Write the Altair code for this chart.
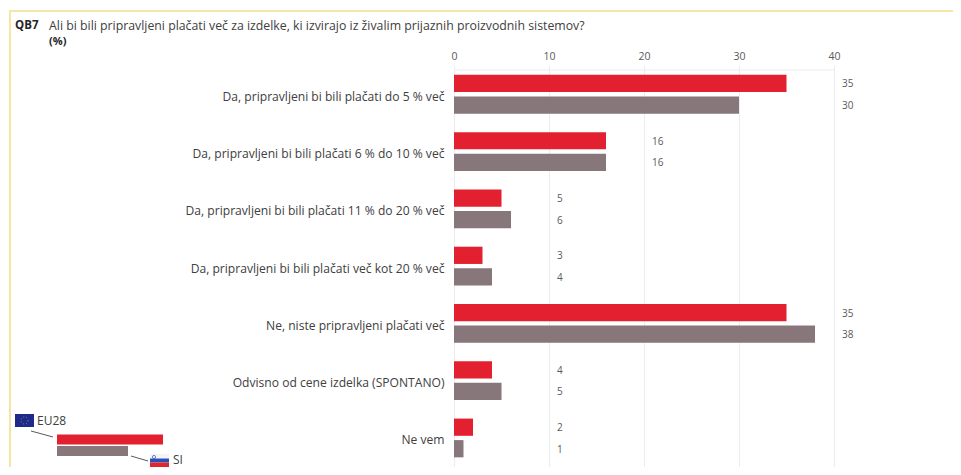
import altair as alt
import pandas as pd

FONT = "Open Sans"
TEXT = "#595959"
categories = [
    "Da, pripravljeni bi bili plačati do 5 % več",
    "Da, pripravljeni bi bili plačati 6 % do 10 % več",
    "Da, pripravljeni bi bili plačati 11 % do 20 % več",
    "Da, pripravljeni bi bili plačati več kot 20 % več",
    "Ne, niste pripravljeni plačati več",
    "Odvisno od cene izdelka (SPONTANO)",
    "Ne vem",
]
eu28 = [35, 16, 5, 3, 35, 4, 2]
si = [30, 16, 6, 4, 38, 5, 1]
label_col_eu = [40, 20, 10, 10, 40, 10, 10]
label_col_si = [40, 20, 10, 10, 40, 10, 10]
series = ["EU28", "SI"]
colors = ["#e32030", "#87767a"]
title_code = "QB7"
title_text = "Ali bi bili pripravljeni plačati več za izdelke, ki izvirajo iz živalim prijaznih proizvodnih sistemov?"
title_unit = "(%)"

rows = []
for c, e, s, le, ls in zip(categories, eu28, si, label_col_eu, label_col_si):
    rows.append(dict(cat=c, series="EU28", value=e, lab=le))
    rows.append(dict(cat=c, series="SI", value=s, lab=ls))
df = pd.DataFrame(rows)

W, H = 380, 397
y_scale = alt.Scale(domain=categories, range=[-4.4, 396.6], paddingInner=0, paddingOuter=0)
x_scale = alt.Scale(domain=[0, 40], nice=False, zero=True)
y_off = alt.YOffset("series:N", sort=series, scale=alt.Scale(domain=series, paddingInner=0.2, paddingOuter=0.43))

bars = alt.Chart(df).mark_bar(clip=False).encode(
    x=alt.X("value:Q", scale=x_scale, axis=alt.Axis(
        orient="top", values=[0, 10, 20, 30, 40], title=None, domain=False, ticks=False,
        grid=True, gridColor="#ececec", gridWidth=1, labelFont=FONT, labelFontSize=10.5,
        labelColor=TEXT, labelPadding=9, labelFlush=False)),
    y=alt.Y("cat:N", sort=categories, scale=y_scale, axis=alt.Axis(
        title=None, domain=False, ticks=False, labelFont=FONT, labelFontSize=12.1,
        labelColor="#404040", labelPadding=10, labelLimit=400, labelOffset=2.5)),
    yOffset=y_off,
    color=alt.Color("series:N", scale=alt.Scale(domain=series, range=colors), legend=None),
)

labels = alt.Chart(df).mark_text(align="left", baseline="middle", dx=8, dy=1, font=FONT, fontSize=10, color=TEXT).encode(
    x=alt.X("lab:Q", scale=x_scale),
    y=alt.Y("cat:N", sort=categories, scale=y_scale),
    yOffset=y_off,
    text=alt.Text("value:Q"),
)

def px(x):
    return x - 454

def py(y):
    return y - 70

def text(s, x, y, size=11, bold=False, color="#404040", font=FONT):
    return alt.Chart(pd.DataFrame({"t": [s]})).mark_text(
        align="left", baseline="middle", font=font, fontSize=size,
        fontWeight="bold" if bold else "normal", color=color,
    ).encode(x=alt.value(px(x)), y=alt.value(py(y)), text="t:N")

def box(x1, y1, x2, y2, color):
    return alt.Chart(pd.DataFrame({"a": [0]})).mark_rect(color=color).encode(
        x=alt.value(px(x1)), x2=alt.value(px(x2)), y=alt.value(py(y1)), y2=alt.value(py(y2)))

def seg(x1, y1, x2, y2, color="#595959", w=1):
    return alt.Chart(pd.DataFrame({"a": [0]})).mark_rule(color=color, strokeWidth=w).encode(
        x=alt.value(px(x1)), x2=alt.value(px(x2)), y=alt.value(py(y1)), y2=alt.value(py(y2)))

def ring(x, y, size, color, dash=None):
    kw = dict(shape="circle", stroke=color, strokeWidth=1, filled=False)
    if dash:
        kw["strokeDash"] = dash
    return alt.Chart(pd.DataFrame({"a": [0]})).mark_point(**kw).encode(
        x=alt.value(px(x)), y=alt.value(py(y)), size=alt.value(size))

extras = [
    seg(454, 70, 834, 70, "#ececec"),
    box(9, 11, 11, 467, "#f5e6a3"),
    box(9, 10, 953, 12, "#f5e6a3"),
    text(title_code, 15, 26, 11.5, True, "#262626"),
    text(title_text, 49, 26, 12.3),
    text(title_unit, 49, 42, 11, True, "#262626"),
    box(15, 414, 34, 427, "#1d2a8c"),
    ring(24.5, 420.5, 50, "#c9b84a", [1, 2]),
    text("EU28", 37, 421, 12),
    seg(31, 431, 53, 437),
    box(57, 434.5, 163, 444.5, colors[0]),
    box(57, 446, 128, 456, colors[1]),
    seg(131, 456, 148, 461),
    box(150, 454, 169, 458.5, "#f4f4f8"),
    box(150, 458.5, 169, 462.5, "#2a4fb5"),
    box(150, 462.5, 169, 467, "#e0252f"),
    ring(154, 457, 10, "#2a4fb5"),
    text("SI", 173, 460, 12),
]

chart = alt.layer(bars, labels, *extras).properties(
    width=W, height=H, padding={"left": 446, "top": 62, "right": 119, "bottom": 0},
    autosize=alt.AutoSizeParams(type="none"), background="#ffffff",
).configure_view(stroke=None)
chart.save("out.html", embed_options={"renderer": "svg", "actions": False})
